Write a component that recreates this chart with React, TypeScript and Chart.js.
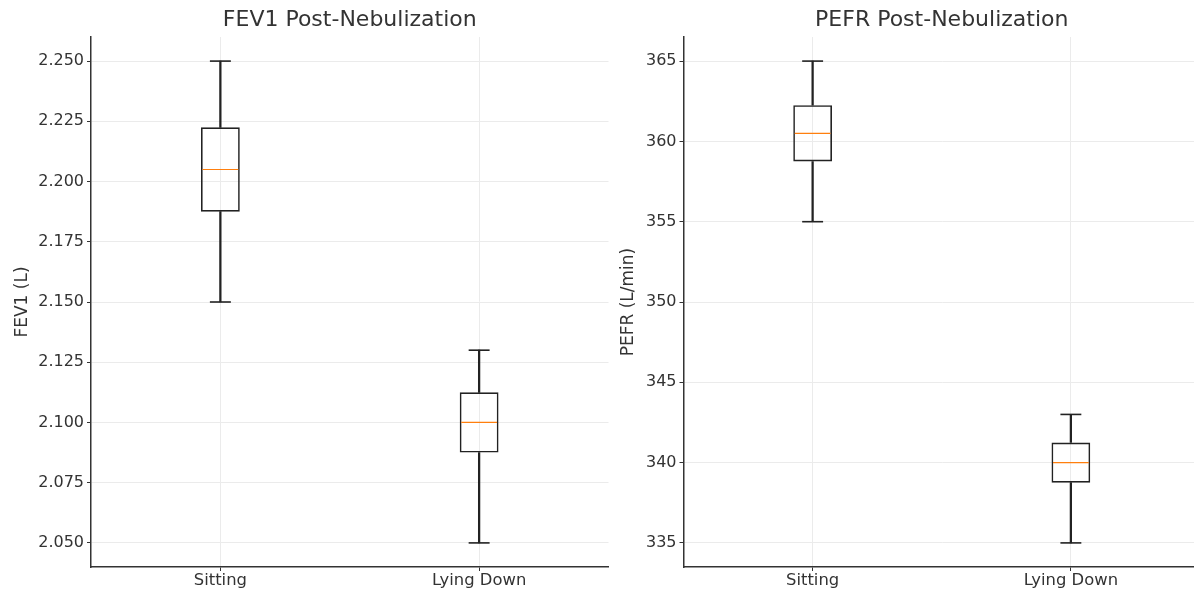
import React, { useEffect, useRef } from 'react';
import { Chart, registerables } from 'chart.js';

Chart.register(...registerables);

const categories = ['Sitting', 'Lying Down'];

const fev1Min = [2.15, 2.05];
const fev1Q1 = [2.1875, 2.0875];
const fev1Median = [2.205, 2.1];
const fev1Q3 = [2.2225, 2.1125];
const fev1Max = [2.25, 2.13];
const fev1Ticks = [2.05, 2.075, 2.1, 2.125, 2.15, 2.175, 2.2, 2.225, 2.25];

const pefrMin = [355, 335];
const pefrQ1 = [358.75, 338.75];
const pefrMedian = [360.5, 340];
const pefrQ3 = [362.25, 341.25];
const pefrMax = [365, 343];
const pefrTicks = [335, 340, 345, 350, 355, 360, 365];

const FONT = 'DejaVu Sans';
const TEXT = '#333333';
const GRID = '#ebebeb';
const LINE = '#222222';
const MEDIAN = '#ff7f0e';

const boxExtras = {
  id: 'boxExtras',
  afterDatasetsDraw(chart: any, _args: any, opts: any) {
    const { ctx, scales } = chart;
    const x = scales.x;
    const y = scales.y;
    const st = opts.stats;
    if (!st) return;
    const unit = x.getPixelForValue(1) - x.getPixelForValue(0);
    const boxW = unit * 0.15;
    ctx.save();
    ctx.lineCap = 'butt';
    st.min.forEach((_: number, i: number) => {
      const cx = x.getPixelForValue(i);
      ctx.strokeStyle = LINE;
      ctx.lineWidth = 1.6;
      [st.min[i], st.max[i]].forEach((v: number) => {
        const py = y.getPixelForValue(v);
        ctx.beginPath();
        ctx.moveTo(cx - boxW * 0.27, py);
        ctx.lineTo(cx + boxW * 0.27, py);
        ctx.stroke();
      });
      const pm = y.getPixelForValue(st.median[i]);
      ctx.strokeStyle = MEDIAN;
      ctx.lineWidth = 1.2;
      ctx.beginPath();
      ctx.moveTo(cx - boxW / 2 + 1.5, pm);
      ctx.lineTo(cx + boxW / 2 - 1.5, pm);
      ctx.stroke();
    });
    ctx.restore();
  },
};

type Spec = {
  title: string;
  yLabel: string;
  min: number[];
  q1: number[];
  median: number[];
  q3: number[];
  max: number[];
  ticks: number[];
  yMin: number;
  yMax: number;
  decimals: number;
  axisWidth: number;
  padRight: number;
  labelPad: number;
};

function makeConfig(s: Spec): any {
  return {
    type: 'bar',
    data: {
      labels: categories,
      datasets: [
        {
          data: s.min.map((v, i) => [v, s.q1[i]]),
          backgroundColor: LINE,
          barThickness: 1.6,
          grouped: false,
          order: 2,
        },
        {
          data: s.q3.map((v, i) => [v, s.max[i]]),
          backgroundColor: LINE,
          barThickness: 1.6,
          grouped: false,
          order: 2,
        },
        {
          data: s.q1.map((v, i) => [v, s.q3[i]]),
          backgroundColor: 'rgba(0,0,0,0)',
          borderColor: LINE,
          borderWidth: 1.6,
          borderSkipped: false,
          barPercentage: 0.15,
          categoryPercentage: 1,
          grouped: false,
          order: 1,
        },
      ],
    },
    options: {
      responsive: false,
      animation: false,
      layout: { padding: { left: 0, right: s.padRight, top: 0, bottom: 0 } },
      plugins: {
        legend: { display: false },
        tooltip: { enabled: false },
        title: {
          display: true,
          text: s.title,
          fullSize: false,
          color: TEXT,
          font: { family: FONT, size: 22, weight: 'normal', lineHeight: 1.2 },
          padding: { top: 7.3, bottom: 3.3 },
        },
        boxExtras: {
          stats: { min: s.min, median: s.median, max: s.max },
        },
      },
      scales: {
        x: {
          type: 'category',
          offset: true,
          grid: {
            display: true,
            offset: false,
            color: GRID,
            lineWidth: 1,
            drawTicks: true,
            tickColor: TEXT,
            tickLength: 4,
            tickWidth: 1,
          },
          border: { display: true, color: TEXT, width: 1.5 },
          ticks: { color: TEXT, font: { family: FONT, size: 16.4 }, padding: 0 },
          afterFit: (sc: any) => {
            sc.height = 24;
          },
        },
        y: {
          type: 'linear',
          min: s.yMin,
          max: s.yMax,
          afterBuildTicks: (sc: any) => {
            sc.ticks = s.ticks.map((v) => ({ value: v }));
          },
          grid: {
            color: GRID,
            lineWidth: 1,
            drawTicks: true,
            tickColor: TEXT,
            tickLength: 4,
            tickWidth: 1,
          },
          border: { display: true, color: TEXT, width: 1.5 },
          ticks: {
            color: TEXT,
            font: { family: FONT, size: 16 },
            padding: 3,
            callback: (v: any) => Number(v).toFixed(s.decimals),
          },
          title: {
            display: true,
            text: s.yLabel,
            color: TEXT,
            font: { family: FONT, size: 17, lineHeight: 1.2 },
            padding: { top: s.labelPad, bottom: 0 },
          },
          afterFit: (sc: any) => {
            sc.width = s.axisWidth;
          },
        },
      },
    },
    plugins: [boxExtras],
  };
}

function BoxChart({ spec, left }: { spec: Spec; left: number }) {
  const ref = useRef<HTMLCanvasElement | null>(null);
  useEffect(() => {
    if (!ref.current) return;
    const chart = new Chart(ref.current, makeConfig(spec));
    return () => chart.destroy();
  }, []);
  return (
    <canvas
      ref={ref}
      width={620}
      height={591}
      style={{ position: 'absolute', left, top: 0, width: 620, height: 591, display: 'block' }}
    />
  );
}

const fev1Spec: Spec = {
  title: 'FEV1 Post-Nebulization',
  yLabel: 'FEV1 (L)',
  min: fev1Min,
  q1: fev1Q1,
  median: fev1Median,
  q3: fev1Q3,
  max: fev1Max,
  ticks: fev1Ticks,
  yMin: 2.04,
  yMax: 2.26,
  decimals: 3,
  axisWidth: 91,
  padRight: 11.5,
  labelPad: 12.3,
};

const pefrSpec: Spec = {
  title: 'PEFR Post-Nebulization',
  yLabel: 'PEFR (L/min)',
  min: pefrMin,
  q1: pefrQ1,
  median: pefrMedian,
  q3: pefrQ3,
  max: pefrMax,
  ticks: pefrTicks,
  yMin: 333.5,
  yMax: 366.5,
  decimals: 0,
  axisWidth: 86.5,
  padRight: 17,
  labelPad: 21.8,
};

export default function App() {
  return (
    <div
      style={{
        position: 'absolute',
        left: 0,
        top: 0,
        width: 1194,
        height: 591,
        overflow: 'hidden',
        background: '#ffffff',
      }}
    >
      <BoxChart spec={fev1Spec} left={0} />
      <BoxChart spec={pefrSpec} left={597} />
    </div>
  );
}
